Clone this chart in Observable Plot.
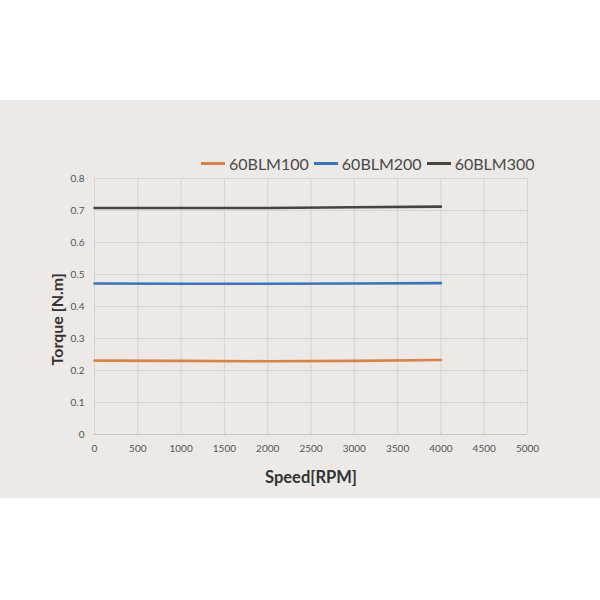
<!DOCTYPE html>
<html>
<head>
<meta charset="utf-8">
<script src="https://cdn.jsdelivr.net/npm/d3@7"></script>
<script src="https://cdn.jsdelivr.net/npm/@observablehq/plot@0.6"></script>
<style>
  html, body { margin: 0; padding: 0; background: #ffffff; width: 600px; height: 600px; overflow: hidden; }
  #band { position: absolute; left: 0; top: 100px; width: 600px; height: 398px; background: #ece9e6; }
  #legend { position: absolute; left: 201px; top: 54px; display: flex; align-items: center; font-family: Lato, "Open Sans", sans-serif; font-size: 16px; color: #4a4a4a; white-space: nowrap; }
  #legend .item { display: flex; align-items: center; margin-right: 5px; }
  #legend .sw { width: 24px; height: 2.5px; margin-right: 4px; }
  #chart { position: absolute; left: 0; top: 60px; }
</style>
</head>
<body>
<div id="band">
  <div id="legend"></div>
  <div id="chart"></div>
</div>
<script>
const seriesNames = ["60BLM100", "60BLM200", "60BLM300"];
const seriesColors = ["#d8834a", "#3a74ba", "#444444"];
const speeds = [0, 1000, 2000, 3000, 4000];
const torque100 = [0.231, 0.230, 0.229, 0.230, 0.233];
const torque200 = [0.472, 0.471, 0.471, 0.472, 0.473];
const torque300 = [0.708, 0.708, 0.708, 0.710, 0.712];
const xTicks = [0, 500, 1000, 1500, 2000, 2500, 3000, 3500, 4000, 4500, 5000];
const yTicks = [0, 0.1, 0.2, 0.3, 0.4, 0.5, 0.6, 0.7, 0.8];
const yLabel = [{text: "Torque [N.m]", y: 0.36}];

const allSeries = [torque100, torque200, torque300];
const rows = [];
seriesNames.forEach((name, i) => {
  speeds.forEach((s, j) => rows.push({series: name, speed: s, torque: allSeries[i][j]}));
});

const legend = document.getElementById("legend");
seriesNames.forEach((name, i) => {
  const item = document.createElement("div");
  item.className = "item";
  const sw = document.createElement("div");
  sw.className = "sw";
  sw.style.background = seriesColors[i];
  const t = document.createElement("span");
  t.textContent = name;
  item.appendChild(sw);
  item.appendChild(t);
  legend.appendChild(item);
});

const plot = Plot.plot({
  width: 600,
  height: 330,
  marginTop: 18,
  marginBottom: 56,
  marginLeft: 94,
  marginRight: 73,
  style: { background: "transparent", fontFamily: "Lato, 'Open Sans', sans-serif" },
  x: { domain: [0, 5000] },
  y: { domain: [0, 0.8] },
  color: { domain: seriesNames, range: seriesColors },
  marks: [
    Plot.ruleX(xTicks, { stroke: "#d6d3d0", strokeWidth: 1 }),
    Plot.ruleY(yTicks, { stroke: "#d6d3d0", strokeWidth: 1 }),
    Plot.ruleY([0], { stroke: "#c8c5c2", strokeWidth: 1 }),
    Plot.axisX({ ticks: xTicks, tickSize: 0, tickPadding: 10, fontSize: 10, color: "#555", tickFormat: d => String(d), label: "Speed[RPM]", labelAnchor: "center", labelArrow: "none", labelOffset: 48 }),
    Plot.axisY({ ticks: yTicks, tickSize: 0, tickPadding: 10, fontSize: 10, color: "#555", tickFormat: d => String(d), label: null }),
    Plot.text(yLabel, { text: "text", y: "y", frameAnchor: "left", textAnchor: "middle", dx: -37, rotate: -90, fontSize: 16, fontWeight: "bold", fill: "#333" }),
    Plot.line(rows, { x: "speed", y: "torque", z: "series", stroke: "series", strokeWidth: 2.6 })
  ]
});
document.getElementById("chart").appendChild(plot);
d3.select(plot).selectAll("[aria-label='x-axis label'] text")
  .style("font-size", "16.5px").style("font-weight", "bold").style("fill", "#333");
</script>
</body>
</html>
